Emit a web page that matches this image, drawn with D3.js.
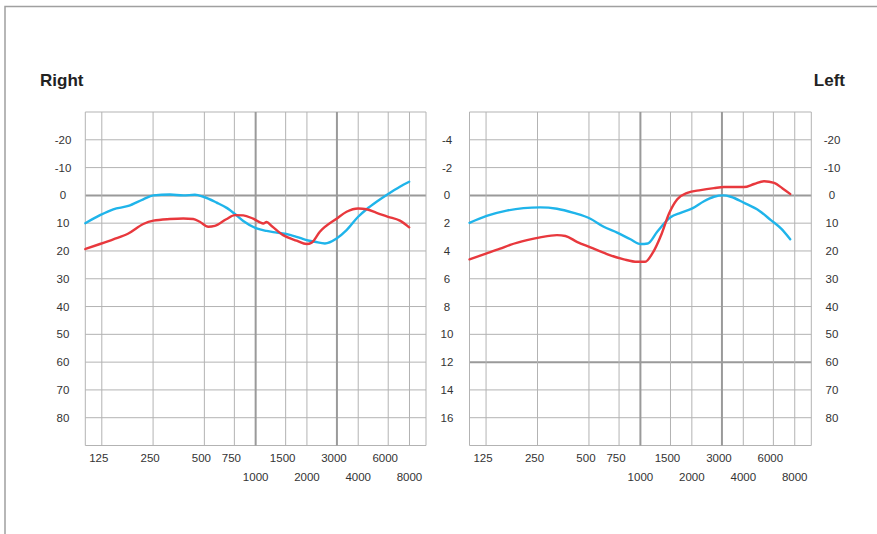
<!DOCTYPE html>
<html>
<head>
<meta charset="utf-8">
<script src="https://cdn.jsdelivr.net/npm/d3@7"></script>
<style>
  html, body { margin: 0; padding: 0; background: #fff; }
  svg { display: block; font-family: "Liberation Sans", Arial, Helvetica, sans-serif; }
</style>
</head>
<body>
<svg id="chart" width="877" height="534"></svg>
<script>
// Frequency grid and tick labels (Hz)
const freqTicks = [125, 250, 500, 750, 1000, 1500, 2000, 3000, 4000, 6000, 8000];
const freqUpperRow = [125, 250, 500, 750, 1500, 3000, 6000];
const freqLowerRow = [1000, 2000, 4000, 8000];
const heavyFreqs = [1000, 3000];
// Level grid (dB)
const levelTicks = [-20, -10, 0, 10, 20, 30, 40, 50, 60, 70, 80];
const secondaryLevelLabels = [-4, -2, 0, 2, 4, 6, 8, 10, 12, 14, 16];

// Right ear
const rightBlueFreq = [100, 122, 146, 179, 219, 251, 314, 376, 440, 493, 590, 676, 756, 846, 1013, 1160, 1328, 1589, 1739, 1992, 2228, 2551, 2986, 3418, 3997, 4478, 5126, 5996, 7024, 7967];
const rightBlueDb   = [10, 7.1, 5.0, 3.8, 1.4, 0, -0.3, 0, -0.2, 0.5, 2.6, 4.5, 6.7, 9.2, 11.9, 12.8, 13.4, 14.2, 14.9, 16.1, 16.7, 17.3, 15.5, 12.5, 7.7, 5.0, 2.3, -0.5, -3.1, -4.9];
const rightRedFreq  = [100, 122, 146, 179, 219, 251, 314, 376, 430, 470, 527, 576, 672, 756, 846, 967, 1108, 1160, 1241, 1450, 1739, 1992, 2134, 2382, 2986, 3418, 3997, 4478, 5126, 5996, 7024, 7967];
const rightRedDb    = [19.3, 17.5, 15.8, 13.7, 10.3, 9.1, 8.5, 8.3, 8.5, 9.5, 11.3, 11.0, 8.6, 7.1, 7.2, 8.4, 10.1, 9.6, 11.0, 14.3, 16.3, 17.5, 17.0, 13.1, 8.4, 5.9, 4.7, 5.0, 6.3, 7.7, 9.1, 11.5];

// Left ear
const leftBlueFreq = [100, 126, 165, 207, 259, 325, 407, 510, 610, 731, 875, 1001, 1105, 1254, 1501, 1719, 2012, 2355, 2695, 3060, 3378, 4042, 4952, 5800, 6640, 7526];
const leftBlueDb   = [9.9, 7.4, 5.5, 4.6, 4.3, 4.8, 6.3, 8.4, 11.3, 13.4, 15.8, 17.5, 17.3, 13.1, 7.9, 6.3, 4.7, 2.1, 0.5, 0, 0.5, 2.7, 5.5, 8.9, 11.9, 15.8];
const leftRedFreq  = [100, 126, 151, 173, 217, 259, 325, 364, 425, 510, 637, 800, 956, 1067, 1175, 1334, 1467, 1644, 1882, 2252, 2695, 3084, 4042, 4627, 5297, 6063, 6793, 7527];
const leftRedDb    = [23.0, 20.9, 19.2, 17.8, 16.1, 15.1, 14.3, 14.6, 16.7, 18.7, 21.1, 23.0, 23.9, 23.9, 20.9, 13.7, 6.7, 1.4, -0.9, -1.9, -2.6, -3.0, -3.0, -4.1, -5.1, -4.5, -2.5, -0.5];

const colBlue = "#1fb4ea";
const colRed = "#e8383d";
const gridCol = "#b3b3b3";
const heavyCol = "#9a9a9a";
const textCol = "#333";

const svg = d3.select("#chart");

// outer frame
svg.append("path")
  .attr("d", "M5,534 V6.5 H877")
  .attr("fill", "none")
  .attr("stroke", "#a0a0a0")
  .attr("stroke-width", 1.5);

const plotTop = 112, plotBottom = 445.5;
const y = d3.scaleLinear().domain([-30, 90]).range([plotTop, plotBottom]);

function panel(x0, x1, series, opts) {
  const x = d3.scaleLog().domain([100, 10000]).range([x0, x1]);
  const g = svg.append("g");

  // horizontal grid
  const hVals = [-30].concat(levelTicks, [90]);
  g.selectAll("line.h").data(hVals).join("line")
    .attr("x1", x0).attr("x2", x1)
    .attr("y1", d => y(d)).attr("y2", d => y(d))
    .attr("stroke", d => (d === 0 || opts.heavyLevels.includes(d)) ? heavyCol : gridCol)
    .attr("stroke-width", d => (d === 0 || opts.heavyLevels.includes(d)) ? 2 : 1);

  // vertical grid
  const vVals = [100].concat(freqTicks, [10000]);
  g.selectAll("line.v").data(vVals).join("line")
    .attr("y1", plotTop).attr("y2", plotBottom)
    .attr("x1", d => x(d)).attr("x2", d => x(d))
    .attr("stroke", d => heavyFreqs.includes(d) ? heavyCol : gridCol)
    .attr("stroke-width", d => heavyFreqs.includes(d) ? 2 : 1);

  // frequency labels
  g.selectAll("text.fu").data(freqUpperRow).join("text")
    .attr("x", d => x(d) - 3).attr("y", 462)
    .attr("text-anchor", "middle").attr("font-size", 11.5).attr("fill", textCol)
    .text(d => d);
  g.selectAll("text.fl").data(freqLowerRow).join("text")
    .attr("x", d => x(d)).attr("y", 481)
    .attr("text-anchor", "middle").attr("font-size", 11.5).attr("fill", textCol)
    .text(d => d);

  // level labels
  g.selectAll("text.yl").data(levelTicks).join("text")
    .attr("x", opts.leftLabelX).attr("y", d => y(d) + 4)
    .attr("text-anchor", "middle").attr("font-size", 11.5).attr("fill", textCol)
    .text((d, i) => opts.leftLabels[i]);

  if (opts.rightLabelX) {
    g.selectAll("text.yr").data(levelTicks).join("text")
      .attr("x", opts.rightLabelX).attr("y", d => y(d) + 4)
      .attr("text-anchor", "middle").attr("font-size", 11.5).attr("fill", textCol)
      .text(d => d);
  }

  const line = d3.line()
    .x(d => x(d[0])).y(d => y(d[1]))
    .curve(d3.curveMonotoneX);

  series.forEach(s => {
    g.append("path")
      .datum(d3.zip(s.freq, s.db))
      .attr("fill", "none")
      .attr("stroke", s.color)
      .attr("stroke-width", 2.4)
      .attr("stroke-linejoin", "round")
      .attr("stroke-linecap", "round")
      .attr("d", line);
  });
}

panel(85.3, 426, [
  { freq: rightBlueFreq, db: rightBlueDb, color: colBlue },
  { freq: rightRedFreq, db: rightRedDb, color: colRed }
], { leftLabelX: 63, leftLabels: levelTicks, heavyLevels: [] });

panel(469.5, 811.3, [
  { freq: leftBlueFreq, db: leftBlueDb, color: colBlue },
  { freq: leftRedFreq, db: leftRedDb, color: colRed }
], { leftLabelX: 447, leftLabels: secondaryLevelLabels, rightLabelX: 832, heavyLevels: [60] });

// ear titles
svg.append("text").attr("x", 40).attr("y", 86)
  .attr("font-size", 17).attr("font-weight", "bold").attr("fill", "#222")
  .text("Right");
svg.append("text").attr("x", 845).attr("y", 86)
  .attr("text-anchor", "end")
  .attr("font-size", 17).attr("font-weight", "bold").attr("fill", "#222")
  .text("Left");
</script>
</body>
</html>
